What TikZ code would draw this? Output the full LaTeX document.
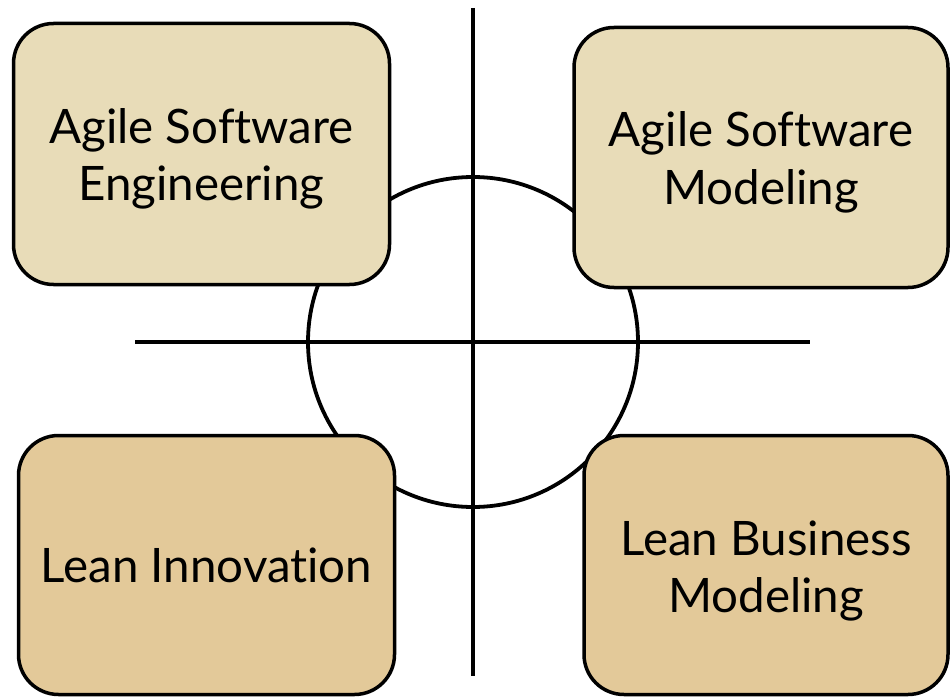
\documentclass[tikz,border=0pt]{standalone}
\usepackage{fontspec}
\setmainfont{Lato}[Ligatures={NoCommon}]
\begin{document}
\begin{tikzpicture}[x=1pt,y=-1pt,
  quad/.style={draw=black, line width=3.5pt, rounded corners=40pt, inner sep=0pt},
  light/.style={quad, fill=topfill},
  dark/.style={quad, fill=botfill},
  txt/.style={align=center, inner sep=0pt, font=\fontsize{47.5}{57.5}\selectfont},
  axis/.style={draw=black, line width=3.8pt}]
\definecolor{topfill}{HTML}{E8DCB8}
\definecolor{botfill}{HTML}{E3C999}
\useasboundingbox (0,0) rectangle (951,698);
\node[circle, draw=black, line width=3.8pt, minimum size=330pt] (ring) at (473,342) {};
\coordinate (vt) at (473,8);
\coordinate (vb) at (473,676);
\coordinate (hl) at (135,342);
\coordinate (hr) at (810,342);
\draw[axis] (vt) -- (vb);
\draw[axis] (hl) -- (hr);
\node[light, minimum width=376pt, minimum height=261pt] (ase) at (201.5,154) {};
\node[light, minimum width=374pt, minimum height=260pt] (asm) at (761,157.5) {};
\node[dark, minimum width=376pt, minimum height=259pt] (li) at (206.5,565) {};
\node[dark, minimum width=364pt, minimum height=259pt] (lbm) at (766,565) {};
\node[txt, yshift=-5pt] (ase-t) at (ase.center) {Agile Software\\Engineering};
\node[txt, yshift=-5pt] (asm-t) at (asm.center) {Agile Software\\Modeling};
\node[txt] (li-t) at (li.center) {Lean Innovation};
\node[txt, yshift=-6pt] (lbm-t) at (lbm.center) {Lean Business\\Modeling};
\end{tikzpicture}
\end{document}
